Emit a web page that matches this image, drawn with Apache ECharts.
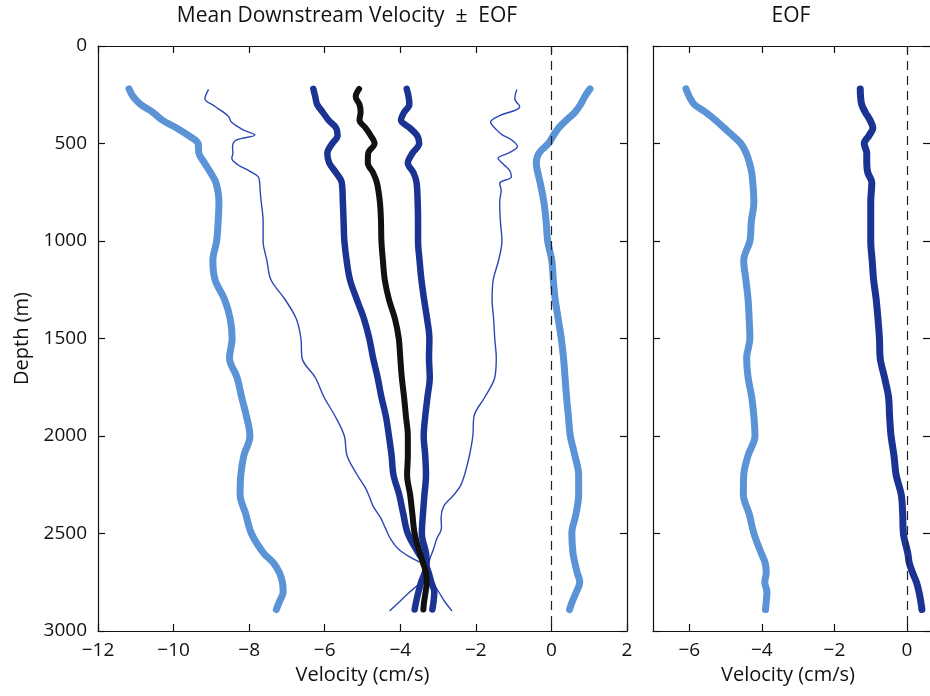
<!DOCTYPE html>
<html>
<head>
<meta charset="utf-8">
<script src="https://cdn.jsdelivr.net/npm/echarts@6/dist/echarts.min.js"></script>
<style>
html,body{margin:0;padding:0;background:#fff;}
#chart{width:930px;height:696px;}
</style>
</head>
<body>
<div id="chart"></div>
<script>
// Depth grid (m) for the thick profiles
const depth = [220, 260, 300, 340, 380, 420, 460, 500, 550, 600, 650, 700, 800, 900, 1000, 1100, 1200, 1300, 1400, 1500, 1600, 1700, 1800, 1900, 2000, 2100, 2200, 2300, 2400, 2500, 2600, 2650, 2700, 2750, 2800, 2850, 2890];

// Mean downstream velocity (cm/s)
const meanVel = [-5.09, -5.18, -5.08, -5.05, -5.08, -4.92, -4.78, -4.68, -4.85, -4.86, -4.72, -4.62, -4.54, -4.51, -4.50, -4.46, -4.41, -4.30, -4.14, -4.04, -4.00, -3.96, -3.90, -3.85, -3.80, -3.80, -3.82, -3.74, -3.68, -3.62, -3.48, -3.40, -3.32, -3.30, -3.33, -3.37, -3.39];

// Mean ± dark-blue EOF
const darkLeft = [-6.30, -6.25, -6.20, -6.05, -5.90, -5.70, -5.66, -5.80, -5.93, -5.88, -5.70, -5.55, -5.52, -5.50, -5.48, -5.42, -5.33, -5.15, -4.96, -4.82, -4.72, -4.60, -4.50, -4.38, -4.30, -4.23, -4.18, -4.03, -3.92, -3.80, -3.52, -3.35, -3.25, -3.18, -3.10, -3.12, -3.15];
const darkRight = [-3.83, -3.78, -3.76, -3.90, -3.98, -3.75, -3.55, -3.50, -3.68, -3.80, -3.65, -3.57, -3.54, -3.53, -3.53, -3.49, -3.44, -3.37, -3.29, -3.23, -3.24, -3.22, -3.28, -3.34, -3.38, -3.34, -3.32, -3.36, -3.40, -3.43, -3.32, -3.30, -3.35, -3.45, -3.52, -3.58, -3.62];

// Mean ± light-blue EOF
const lightLeft = [-11.18, -11.07, -10.87, -10.55, -10.30, -9.92, -9.60, -9.35, -9.33, -9.18, -9.02, -8.88, -8.80, -8.82, -8.86, -8.96, -8.90, -8.65, -8.50, -8.45, -8.52, -8.32, -8.20, -8.07, -7.98, -8.14, -8.22, -8.24, -8.09, -7.94, -7.62, -7.36, -7.20, -7.12, -7.10, -7.20, -7.28];
const lightRight = [1.02, 0.88, 0.77, 0.62, 0.40, 0.19, 0.05, -0.08, -0.33, -0.40, -0.36, -0.30, -0.20, -0.14, -0.10, 0.01, 0.05, 0.10, 0.18, 0.26, 0.32, 0.36, 0.40, 0.45, 0.50, 0.62, 0.72, 0.72, 0.65, 0.54, 0.57, 0.62, 0.68, 0.75, 0.66, 0.55, 0.48];

// Thin profiles (own depth grid)
const thinDepth = [225, 270, 310, 360, 390, 430, 456, 482, 516, 550, 576, 610, 640, 670, 705, 740, 800, 900, 1000, 1100, 1200, 1300, 1400, 1500, 1600, 1700, 1800, 1900, 2000, 2100, 2200, 2260, 2310, 2360, 2420, 2470, 2530, 2580, 2620, 2650, 2670, 2700, 2750, 2800, 2850, 2895];
const thinLeft = [-9.08, -9.17, -8.90, -8.55, -8.47, -8.16, -7.85, -8.33, -8.44, -8.43, -8.46, -8.29, -8.00, -7.76, -7.72, -7.71, -7.68, -7.63, -7.63, -7.53, -7.42, -7.05, -6.75, -6.63, -6.60, -6.25, -6.02, -5.72, -5.48, -5.41, -5.14, -4.94, -4.82, -4.72, -4.52, -4.40, -4.25, -4.05, -3.75, -3.45, -3.30, -3.22, -3.14, -2.98, -2.82, -2.64];
const thinRight = [-0.92, -0.97, -0.84, -1.40, -1.61, -1.45, -1.30, -1.05, -0.90, -1.15, -1.41, -1.25, -1.10, -1.06, -1.37, -1.33, -1.37, -1.35, -1.31, -1.40, -1.54, -1.57, -1.53, -1.50, -1.46, -1.50, -1.76, -2.05, -2.08, -2.17, -2.30, -2.42, -2.62, -2.85, -2.92, -2.91, -3.04, -3.12, -3.20, -3.25, -3.32, -3.38, -3.47, -3.75, -4.02, -4.27];

// EOF panel
const eofLight = [-6.09, -6.00, -5.86, -5.55, -5.28, -5.04, -4.80, -4.58, -4.43, -4.34, -4.28, -4.25, -4.22, -4.29, -4.33, -4.50, -4.44, -4.38, -4.35, -4.33, -4.42, -4.38, -4.28, -4.22, -4.19, -4.38, -4.50, -4.51, -4.35, -4.22, -4.02, -3.91, -3.88, -3.92, -3.86, -3.88, -3.90];
const eofDark = [-1.29, -1.28, -1.25, -1.15, -1.02, -0.94, -1.05, -1.18, -1.11, -1.11, -1.08, -0.97, -1.00, -1.00, -1.00, -0.96, -0.92, -0.85, -0.80, -0.76, -0.74, -0.62, -0.51, -0.48, -0.44, -0.36, -0.30, -0.16, -0.12, -0.10, 0.02, 0.06, 0.15, 0.26, 0.33, 0.38, 0.41];

// Axis ticks
const depthTicks = [0, 500, 1000, 1500, 2000, 2500, 3000];
const velTicksLeft = [-12, -10, -8, -6, -4, -2, 0, 2];
const velTicksRight = [-6, -4, -2, 0];

const FONT = '"Open Sans", "DejaVu Sans", sans-serif';
const C_LIGHT = '#5a93d6';
const C_DARK = '#1b3494';
const C_THIN = '#2b47b5';
const C_BLACK = '#111111';

function pairs(xs, ys) { return xs.map((x, i) => [x, ys[i]]); }
function fmt(v) { return v < 0 ? '\u2212' + Math.abs(v) : String(v); }

const chart = echarts.init(document.getElementById('chart'), null, { renderer: 'canvas' });

const axisLine = { show: true, onZero: false, lineStyle: { color: '#111', width: 1.2 } };
const tickIn = { show: true, inside: true, length: 7, lineStyle: { color: '#111', width: 1.2 } };
const labelStyle = { color: '#111', fontSize: 19, fontFamily: FONT };

function xA(grid, pos, min, max, opts) {
  const a = {
    type: 'value', gridIndex: grid, position: pos, min: min, max: max,
    axisLine: axisLine, splitLine: { show: false },
    axisTick: Object.assign({}, tickIn),
    axisLabel: Object.assign({ show: pos === 'bottom', margin: 10, formatter: fmt }, labelStyle)
  };
  return Object.assign(a, opts || {});
}
function yA(grid, pos, showLabel) {
  return {
    type: 'value', gridIndex: grid, position: pos, inverse: true, min: 0, max: 3000, interval: 500,
    axisLine: axisLine, splitLine: { show: false },
    axisTick: Object.assign({}, tickIn),
    axisLabel: Object.assign({ show: showLabel, margin: 11, formatter: v => String(v) }, labelStyle)
  };
}

function line(name, xs, ys, color, width, gi, z) {
  return {
    name: name, type: 'line', xAxisIndex: gi, yAxisIndex: gi, data: pairs(xs, ys),
    showSymbol: false, symbol: 'none', smooth: 0.35, z: z,
    lineStyle: { color: color, width: width, cap: 'round', join: 'round' },
    emphasis: { disabled: true }, animation: false
  };
}

const zeroLine = {
  silent: true, symbol: 'none', animation: false, label: { show: false },
  lineStyle: { color: '#222', width: 1.2, type: [9, 6] },
  data: [{ xAxis: 0 }]
};

const leftSeries = [
  line('lightLeft', lightLeft, depth, C_LIGHT, 7, 0, 2),
  line('lightRight', lightRight, depth, C_LIGHT, 7, 0, 2),
  line('thinLeft', thinLeft, thinDepth, C_THIN, 1.4, 0, 3),
  line('thinRight', thinRight, thinDepth, C_THIN, 1.4, 0, 3),
  line('darkLeft', darkLeft, depth, C_DARK, 6.5, 0, 4),
  line('darkRight', darkRight, depth, C_DARK, 6.5, 0, 4),
  line('mean', meanVel, depth, C_BLACK, 6, 0, 5)
];
leftSeries[0].markLine = zeroLine;

const rightSeries = [
  line('eofLight', eofLight, depth, C_LIGHT, 7, 2, 2),
  line('eofDark', eofDark, depth, C_DARK, 7, 2, 3)
];
rightSeries[0].markLine = zeroLine;

const nameStyle = { color: '#111', fontSize: 20, fontFamily: FONT };

// right panel is cut by the page edge: its right frame is not shown, only tick stubs
const rightPanelY = yA(1, 'right', false);
rightPanelY.axisLine = { show: false, onZero: false };

const option = {
  backgroundColor: '#ffffff',
  animation: false,
  textStyle: { fontFamily: FONT },
  title: [
    { text: 'Mean Downstream Velocity  \u00b1  EOF', left: 342, top: 1, textAlign: 'center',
      textStyle: { fontSize: 21, fontWeight: 'normal', color: '#111', fontFamily: FONT } },
    { text: 'EOF', left: 786, top: 1, textAlign: 'center',
      textStyle: { fontSize: 21, fontWeight: 'normal', color: '#111', fontFamily: FONT } }
  ],
  grid: [
    { left: 98, top: 46, width: 529, height: 585, containLabel: false },
    { left: 653, top: 46, width: 277, height: 585, containLabel: false }
  ],
  xAxis: [
    xA(0, 'bottom', -12, 2, { interval: 2, name: 'Velocity (cm/s)', nameLocation: 'middle', nameGap: 34, nameTextStyle: nameStyle }),
    xA(0, 'top', -12, 2, { interval: 2 }),
    xA(1, 'bottom', -7, 0.633, {
      axisTick: Object.assign({}, tickIn, { customValues: velTicksRight }),
      axisLabel: Object.assign({ show: true, margin: 10, formatter: fmt, customValues: velTicksRight }, labelStyle)
    }),
    xA(1, 'top', -7, 0.633, {
      axisTick: Object.assign({}, tickIn, { customValues: velTicksRight }),
      axisLabel: { show: false }
    })
  ],
  yAxis: [
    Object.assign(yA(0, 'left', true), { name: 'Depth (m)', nameLocation: 'middle', nameGap: 64, nameRotate: 90, nameTextStyle: nameStyle }),
    yA(0, 'right', false),
    yA(1, 'left', false),
    rightPanelY
  ],
  graphic: [
    { type: 'text', x: 788, y: 665, style: { text: 'Velocity (cm/s)', fill: '#111', font: '20px ' + FONT, textAlign: 'center', textVerticalAlign: 'top' } }
  ],
  series: leftSeries.concat(rightSeries)
};
chart.setOption(option);
</script>
</body>
</html>
